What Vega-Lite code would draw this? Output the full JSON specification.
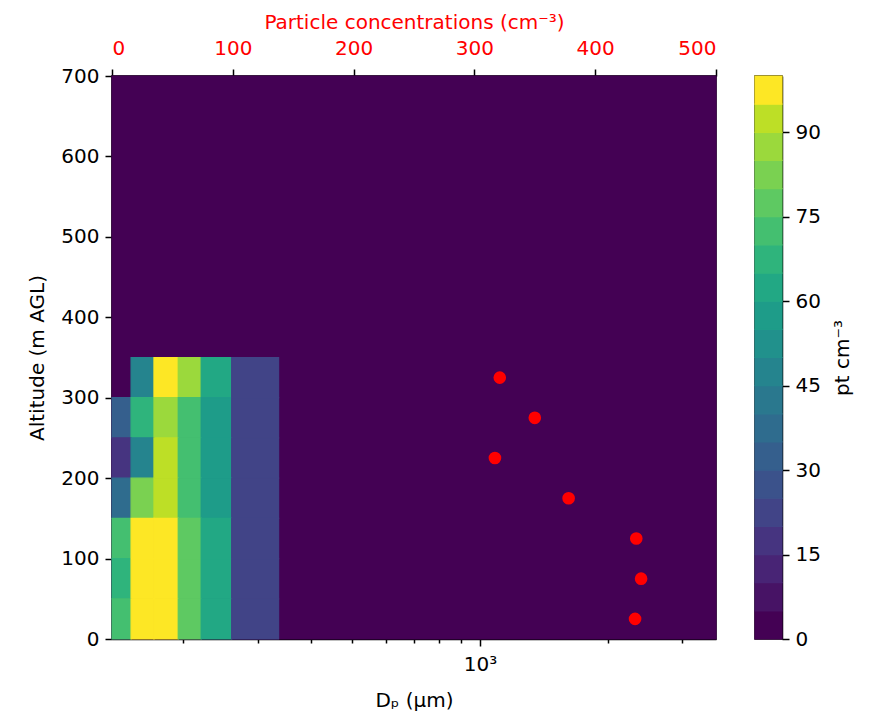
{
  "$schema": "https://vega.github.io/schema/vega-lite/v6.json",
  "padding": {"left": 27, "top": 11, "right": 5, "bottom": 5},
  "datasets": {
    "cells": [
      {"d_lo": 135.7, "d_hi": 3600, "alt_lo": 0, "alt_hi": 700, "conc": 0},
      {"d_lo": 150.5, "d_hi": 170.4, "alt_lo": 300, "alt_hi": 350, "conc": 47},
      {"d_lo": 170.4, "d_hi": 194.4, "alt_lo": 300, "alt_hi": 350, "conc": 97},
      {"d_lo": 194.4, "d_hi": 220.2, "alt_lo": 300, "alt_hi": 350, "conc": 87},
      {"d_lo": 220.2, "d_hi": 259.8, "alt_lo": 300, "alt_hi": 350, "conc": 62},
      {"d_lo": 259.8, "d_hi": 335.2, "alt_lo": 300, "alt_hi": 350, "conc": 22},
      {"d_lo": 135.7, "d_hi": 150.5, "alt_lo": 250, "alt_hi": 300, "conc": 32},
      {"d_lo": 150.5, "d_hi": 170.4, "alt_lo": 250, "alt_hi": 300, "conc": 67},
      {"d_lo": 170.4, "d_hi": 194.4, "alt_lo": 250, "alt_hi": 300, "conc": 87},
      {"d_lo": 194.4, "d_hi": 220.2, "alt_lo": 250, "alt_hi": 300, "conc": 72},
      {"d_lo": 220.2, "d_hi": 259.8, "alt_lo": 250, "alt_hi": 300, "conc": 57},
      {"d_lo": 259.8, "d_hi": 335.2, "alt_lo": 250, "alt_hi": 300, "conc": 22},
      {"d_lo": 135.7, "d_hi": 150.5, "alt_lo": 200, "alt_hi": 250, "conc": 17},
      {"d_lo": 150.5, "d_hi": 170.4, "alt_lo": 200, "alt_hi": 250, "conc": 47},
      {"d_lo": 170.4, "d_hi": 194.4, "alt_lo": 200, "alt_hi": 250, "conc": 92},
      {"d_lo": 194.4, "d_hi": 220.2, "alt_lo": 200, "alt_hi": 250, "conc": 72},
      {"d_lo": 220.2, "d_hi": 259.8, "alt_lo": 200, "alt_hi": 250, "conc": 57},
      {"d_lo": 259.8, "d_hi": 335.2, "alt_lo": 200, "alt_hi": 250, "conc": 22},
      {"d_lo": 135.7, "d_hi": 150.5, "alt_lo": 150, "alt_hi": 200, "conc": 37},
      {"d_lo": 150.5, "d_hi": 170.4, "alt_lo": 150, "alt_hi": 200, "conc": 82},
      {"d_lo": 170.4, "d_hi": 194.4, "alt_lo": 150, "alt_hi": 200, "conc": 92},
      {"d_lo": 194.4, "d_hi": 220.2, "alt_lo": 150, "alt_hi": 200, "conc": 72},
      {"d_lo": 220.2, "d_hi": 259.8, "alt_lo": 150, "alt_hi": 200, "conc": 57},
      {"d_lo": 259.8, "d_hi": 335.2, "alt_lo": 150, "alt_hi": 200, "conc": 22},
      {"d_lo": 135.7, "d_hi": 150.5, "alt_lo": 100, "alt_hi": 150, "conc": 72},
      {"d_lo": 150.5, "d_hi": 170.4, "alt_lo": 100, "alt_hi": 150, "conc": 97},
      {"d_lo": 170.4, "d_hi": 194.4, "alt_lo": 100, "alt_hi": 150, "conc": 97},
      {"d_lo": 194.4, "d_hi": 220.2, "alt_lo": 100, "alt_hi": 150, "conc": 77},
      {"d_lo": 220.2, "d_hi": 259.8, "alt_lo": 100, "alt_hi": 150, "conc": 62},
      {"d_lo": 259.8, "d_hi": 335.2, "alt_lo": 100, "alt_hi": 150, "conc": 22},
      {"d_lo": 135.7, "d_hi": 150.5, "alt_lo": 50, "alt_hi": 100, "conc": 67},
      {"d_lo": 150.5, "d_hi": 170.4, "alt_lo": 50, "alt_hi": 100, "conc": 97},
      {"d_lo": 170.4, "d_hi": 194.4, "alt_lo": 50, "alt_hi": 100, "conc": 97},
      {"d_lo": 194.4, "d_hi": 220.2, "alt_lo": 50, "alt_hi": 100, "conc": 77},
      {"d_lo": 220.2, "d_hi": 259.8, "alt_lo": 50, "alt_hi": 100, "conc": 62},
      {"d_lo": 259.8, "d_hi": 335.2, "alt_lo": 50, "alt_hi": 100, "conc": 22},
      {"d_lo": 135.7, "d_hi": 150.5, "alt_lo": 0, "alt_hi": 50, "conc": 72},
      {"d_lo": 150.5, "d_hi": 170.4, "alt_lo": 0, "alt_hi": 50, "conc": 97},
      {"d_lo": 170.4, "d_hi": 194.4, "alt_lo": 0, "alt_hi": 50, "conc": 97},
      {"d_lo": 194.4, "d_hi": 220.2, "alt_lo": 0, "alt_hi": 50, "conc": 77},
      {"d_lo": 220.2, "d_hi": 259.8, "alt_lo": 0, "alt_hi": 50, "conc": 62},
      {"d_lo": 259.8, "d_hi": 335.2, "alt_lo": 0, "alt_hi": 50, "conc": 22}
    ],
    "points": [
      {"alt": 25, "total": 433},
      {"alt": 75, "total": 438},
      {"alt": 125, "total": 434},
      {"alt": 175, "total": 378},
      {"alt": 225, "total": 317},
      {"alt": 275, "total": 350},
      {"alt": 325, "total": 321}
    ],
    "bar": [
      {"lo": 0, "hi": 5, "mid": 2.5}, {"lo": 5, "hi": 10, "mid": 7.5},
      {"lo": 10, "hi": 15, "mid": 12.5}, {"lo": 15, "hi": 20, "mid": 17.5},
      {"lo": 20, "hi": 25, "mid": 22.5}, {"lo": 25, "hi": 30, "mid": 27.5},
      {"lo": 30, "hi": 35, "mid": 32.5}, {"lo": 35, "hi": 40, "mid": 37.5},
      {"lo": 40, "hi": 45, "mid": 42.5}, {"lo": 45, "hi": 50, "mid": 47.5},
      {"lo": 50, "hi": 55, "mid": 52.5}, {"lo": 55, "hi": 60, "mid": 57.5},
      {"lo": 60, "hi": 65, "mid": 62.5}, {"lo": 65, "hi": 70, "mid": 67.5},
      {"lo": 70, "hi": 75, "mid": 72.5}, {"lo": 75, "hi": 80, "mid": 77.5},
      {"lo": 80, "hi": 85, "mid": 82.5}, {"lo": 85, "hi": 90, "mid": 87.5},
      {"lo": 90, "hi": 95, "mid": 92.5}, {"lo": 95, "hi": 100, "mid": 97.5}
    ]
  },
  "config": {
    "font": "DejaVu Sans",
    "view": {"stroke": "black", "strokeWidth": 1.5},
    "axis": {
      "grid": false,
      "labelFont": "DejaVu Sans",
      "labelFontSize": 20,
      "labelColor": "black",
      "titleFont": "DejaVu Sans",
      "titleFontSize": 20,
      "titleFontWeight": "normal",
      "titleColor": "black",
      "tickColor": "black",
      "domainColor": "black",
      "domainWidth": 1.5,
      "tickWidth": 1.5,
      "tickSize": 7,
      "labelPadding": 6
    }
  },
  "spacing": 35,
  "hconcat": [
    {
      "width": 604,
      "height": 563,
      "layer": [
        {
          "data": {"name": "cells"},
          "mark": {"type": "rect", "strokeWidth": 1.2},
          "encoding": {
            "x": {
              "field": "d_lo", "type": "quantitative",
              "scale": {"type": "log", "domain": [135.7, 3600], "nice": false},
              "axis": {
                "orient": "bottom",
                "title": "Dₚ (μm)",
                "values": [200, 300, 400, 500, 600, 700, 800, 900, 1000, 2000, 3000],
                "labelExpr": "datum.value == 1000 ? '10³' : ''",
                "tickSize": {"condition": {"test": "datum.value == 1000", "value": 7}, "value": 4},
                "labelPadding": 8,
                "titlePadding": 16
              }
            },
            "x2": {"field": "d_hi"},
            "y": {
              "field": "alt_lo", "type": "quantitative",
              "scale": {"domain": [0, 700], "nice": false},
              "axis": {"title": "Altitude (m AGL)", "values": [0, 100, 200, 300, 400, 500, 600, 700], "titlePadding": 13}
            },
            "y2": {"field": "alt_hi"},
            "color": {
              "field": "conc", "type": "quantitative",
              "scale": {
                "type": "threshold",
                "domain": [5, 10, 15, 20, 25, 30, 35, 40, 45, 50, 55, 60, 65, 70, 75, 80, 85, 90, 95],
                "range": ["#440154", "#471365", "#482475", "#463480", "#414487", "#3b528b", "#355f8d", "#2f6c8e", "#2a788e", "#25848e", "#21918c", "#1e9c89", "#22a884", "#2fb47c", "#44bf70", "#5ec962", "#7ad151", "#9bd93c", "#bddf26", "#fde725"]
              },
              "legend": null
            },
            "stroke": {
              "field": "conc", "type": "quantitative",
              "scale": {
                "type": "threshold",
                "domain": [5, 10, 15, 20, 25, 30, 35, 40, 45, 50, 55, 60, 65, 70, 75, 80, 85, 90, 95],
                "range": ["#440154", "#471365", "#482475", "#463480", "#414487", "#3b528b", "#355f8d", "#2f6c8e", "#2a788e", "#25848e", "#21918c", "#1e9c89", "#22a884", "#2fb47c", "#44bf70", "#5ec962", "#7ad151", "#9bd93c", "#bddf26", "#fde725"]
              },
              "legend": null
            }
          }
        },
        {
          "data": {"name": "points"},
          "mark": {"type": "circle", "color": "red", "opacity": 1, "size": 160},
          "encoding": {
            "x": {
              "field": "total", "type": "quantitative",
              "scale": {"domain": [0, 500], "nice": false},
              "axis": {
                "orient": "top",
                "title": "Particle concentrations (cm⁻³)",
                "values": [0, 100, 200, 300, 400, 500],
                "labelColor": "red",
                "titleColor": "red",
                "labelPadding": 11,
                "titlePadding": 6
              }
            },
            "y": {"field": "alt", "type": "quantitative", "scale": {"domain": [0, 700], "nice": false}}
          }
        }
      ],
      "resolve": {"scale": {"x": "independent"}, "axis": {"x": "independent"}}
    },
    {
      "width": 27,
      "height": 563,
      "data": {"name": "bar"},
      "mark": {"type": "rect", "strokeWidth": 1.2},
      "encoding": {
        "x": {"value": 0},
        "x2": {"value": 27},
        "y": {
          "field": "lo", "type": "quantitative",
          "scale": {"domain": [0, 100], "nice": false},
          "axis": {"orient": "right", "title": "pt cm⁻³", "titleAngle": 270, "titleBaseline": "top", "values": [0, 15, 30, 45, 60, 75, 90], "titlePadding": 12}
        },
        "y2": {"field": "hi"},
        "color": {
          "field": "mid", "type": "quantitative",
          "scale": {
            "type": "threshold",
            "domain": [5, 10, 15, 20, 25, 30, 35, 40, 45, 50, 55, 60, 65, 70, 75, 80, 85, 90, 95],
            "range": ["#440154", "#471365", "#482475", "#463480", "#414487", "#3b528b", "#355f8d", "#2f6c8e", "#2a788e", "#25848e", "#21918c", "#1e9c89", "#22a884", "#2fb47c", "#44bf70", "#5ec962", "#7ad151", "#9bd93c", "#bddf26", "#fde725"]
          },
          "legend": null
        },
        "stroke": {
          "field": "mid", "type": "quantitative",
          "scale": {
            "type": "threshold",
            "domain": [5, 10, 15, 20, 25, 30, 35, 40, 45, 50, 55, 60, 65, 70, 75, 80, 85, 90, 95],
            "range": ["#440154", "#471365", "#482475", "#463480", "#414487", "#3b528b", "#355f8d", "#2f6c8e", "#2a788e", "#25848e", "#21918c", "#1e9c89", "#22a884", "#2fb47c", "#44bf70", "#5ec962", "#7ad151", "#9bd93c", "#bddf26", "#fde725"]
          },
          "legend": null
        }
      }
    }
  ]
}
